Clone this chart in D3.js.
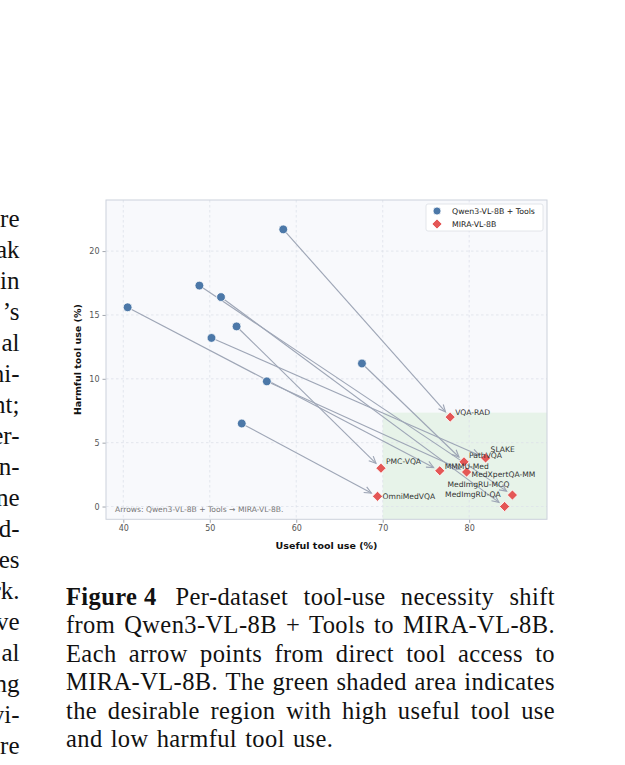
<!DOCTYPE html>
<html><head><meta charset="utf-8">
<script src="https://cdn.jsdelivr.net/npm/d3@7"></script>
<style>body{margin:0;background:#fff} svg{display:block}</style>
</head><body>
<svg id="c" width="625" height="765"></svg>
<script>
// ---------- data ----------
const datasets    = ["VQA-RAD","PathVQA","SLAKE","MMMU-Med","MedXpertQA-MM","PMC-VQA","OmniMedVQA","MedImgRU-MCQ","MedImgRU-QA"];
const toolsUseful  = [58.5, 67.6, 50.2, 40.5, 56.6, 53.1, 53.7, 48.8, 51.3];   // Qwen3-VL-8B + Tools
const toolsHarmful = [21.7, 11.2, 13.2, 15.6,  9.8, 14.1,  6.5, 17.3, 16.4];
const miraUseful   = [77.8, 79.4, 81.9, 76.6, 79.7, 69.8, 69.4, 85.0, 84.1];   // MIRA-VL-8B
const miraHarmful  = [ 7.0,  3.5,  3.8,  2.8,  2.7,  3.0,  0.8,  0.9,  0.0];
const xTicks = [40, 50, 60, 70, 80];
const yTicks = [0, 5, 10, 15, 20];
const xDomain = [38, 89];
const yDomain = [-1, 24];
const desirableUsefulMin = 70;
const desirableHarmfulMax = 7.35;
const seriesNames = ["Qwen3-VL-8B + Tools", "MIRA-VL-8B"];
const noteText = "Arrows: Qwen3-VL-8B + Tools \u2192 MIRA-VL-8B.";
const xLabel = "Useful tool use (%)";
const yLabel = "Harmful tool use (%)";
const captionLines = [
  "Per-dataset tool-use necessity shift",
  "from Qwen3-VL-8B + Tools to MIRA-VL-8B.",
  "Each arrow points from direct tool access to",
  "MIRA-VL-8B. The green shaded area indicates",
  "the desirable region with high useful tool use",
  "and low harmful tool use."
];
const captionLabel = "Figure 4";
const bodyTails = ["re","ak","in","\u2019s","al","ni-","nt;","er-","n-","ne","d-","es","rk.","ve","al","ng","vi-","re"];

// ---------- styling / layout ----------
const labelOffsets = {
  "VQA-RAD":[5,-5,"start"], "PathVQA":[5,-6.5,"start"], "SLAKE":[5,-8,"start"],
  "MMMU-Med":[5,-4.5,"start"], "MedXpertQA-MM":[5,2,"start"], "PMC-VQA":[5,-7,"start"],
  "OmniMedVQA":[5,0,"start"], "MedImgRU-MCQ":[-3,-11,"end"], "MedImgRU-QA":[-4,-12.5,"end"]
};
const BLUE = "#4c78a8", RED = "#e45756", ARROW = "#9ea6b6";
const SANS = "'DejaVu Sans', sans-serif";
const SERIF = "'Liberation Serif', 'Times New Roman', serif";

const svg = d3.select("#c");
const L = 106, R = 547, T = 200, B = 519.3;
const x = d3.scaleLinear().domain(xDomain).range([L, R]);
const y = d3.scaleLinear().domain(yDomain).range([B, T]);

// plot background
svg.append("rect").attr("x", L).attr("y", T).attr("width", R - L).attr("height", B - T).attr("fill", "#f8f9fc");
// desirable region
svg.append("rect")
  .attr("x", x(desirableUsefulMin)).attr("y", y(desirableHarmfulMax))
  .attr("width", x(xDomain[1]) - x(desirableUsefulMin))
  .attr("height", y(yDomain[0]) - y(desirableHarmfulMax))
  .attr("fill", "#e7f3e9");
// grid
const grid = svg.append("g").attr("stroke", "#dde1ea").attr("stroke-width", 0.8).attr("stroke-dasharray", "2.5,2.5");
xTicks.forEach(v => grid.append("line").attr("x1", x(v)).attr("x2", x(v)).attr("y1", T).attr("y2", B));
yTicks.forEach(v => grid.append("line").attr("y1", y(v)).attr("y2", y(v)).attr("x1", L).attr("x2", R));

// axes
const ax = svg.append("g").attr("transform", `translate(0,${B})`)
  .call(d3.axisBottom(x).tickValues(xTicks).tickSize(3.5).tickPadding(3).tickFormat(d3.format("d")));
const ay = svg.append("g").attr("transform", `translate(${L},0)`)
  .call(d3.axisLeft(y).tickValues(yTicks).tickSize(3.5).tickPadding(3).tickFormat(d3.format("d")));
[ax, ay].forEach(g => {
  g.select(".domain").remove();
  g.selectAll(".tick line").attr("stroke", "#8a8f99").attr("stroke-width", 0.8);
  g.selectAll(".tick text").attr("fill", "#555").style("font-family", SANS).style("font-size", "8px");
});
// border
svg.append("rect").attr("x", L).attr("y", T).attr("width", R - L).attr("height", B - T)
  .attr("fill", "none").attr("stroke", "#ccd1db").attr("stroke-width", 1);

// axis labels
svg.append("text").attr("x", (L + R) / 2).attr("y", 545).attr("text-anchor", "middle")
  .attr("dominant-baseline", "central").style("font-family", SANS).style("font-weight", "bold")
  .style("font-size", "9.5px").attr("fill", "#111").text(xLabel);
svg.append("text").attr("transform", `translate(77,${(T + B) / 2}) rotate(-90)`).attr("text-anchor", "middle")
  .attr("dominant-baseline", "central").style("font-family", SANS).style("font-weight", "bold")
  .style("font-size", "9.5px").attr("fill", "#111").text(yLabel);

// arrows
const arrows = svg.append("g").attr("stroke", ARROW).attr("stroke-width", 1.15).attr("fill", "none");
datasets.forEach((d, i) => {
  const sx = x(toolsUseful[i]), sy = y(toolsHarmful[i]);
  const tx = x(miraUseful[i]), ty = y(miraHarmful[i]);
  const dx = tx - sx, dy = ty - sy, len = Math.hypot(dx, dy);
  const ux = dx / len, uy = dy / len, nx = -uy, ny = ux;
  const x0 = sx + ux * 4, y0 = sy + uy * 4;
  const x1 = tx - ux * 7, y1 = ty - uy * 7;
  arrows.append("path").attr("d", `M${x0},${y0}L${x1},${y1}`);
  const hl = 7, hw = 3.2;
  arrows.append("path").attr("d",
    `M${x1 - ux * hl + nx * hw},${y1 - uy * hl + ny * hw}L${x1},${y1}L${x1 - ux * hl - nx * hw},${y1 - uy * hl - ny * hw}`);
});

// markers
svg.append("g").selectAll("circle").data(datasets).join("circle")
  .attr("cx", (d, i) => x(toolsUseful[i])).attr("cy", (d, i) => y(toolsHarmful[i]))
  .attr("r", 4.4).attr("fill", BLUE).attr("stroke", "#fff").attr("stroke-width", 0.8);
const diamond = d3.symbol().type(d3.symbolSquare).size(52);
svg.append("g").selectAll("path").data(datasets).join("path")
  .attr("d", diamond)
  .attr("transform", (d, i) => `translate(${x(miraUseful[i])},${y(miraHarmful[i])}) rotate(45)`)
  .attr("fill", RED).attr("stroke", "#fff").attr("stroke-width", 0.8);

// point labels
svg.append("g").selectAll("text").data(datasets).join("text")
  .attr("x", (d, i) => x(miraUseful[i]) + labelOffsets[d][0])
  .attr("y", (d, i) => y(miraHarmful[i]) + labelOffsets[d][1])
  .attr("text-anchor", d => labelOffsets[d][2])
  .attr("dominant-baseline", "central")
  .style("font-family", SANS).style("font-size", "7.6px").attr("fill", "#333").text(d => d);

// note
svg.append("text").attr("x", 115).attr("y", 509).attr("dominant-baseline", "central")
  .style("font-family", SANS).style("font-size", "7.6px").attr("fill", "#777").text(noteText);

// legend
const lg = svg.append("g");
lg.append("rect").attr("x", 426).attr("y", 204).attr("width", 117).attr("height", 27).attr("rx", 2)
  .attr("fill", "#fff").attr("fill-opacity", 0.9).attr("stroke", "#dcdfe5").attr("stroke-width", 0.8);
lg.append("circle").attr("cx", 437).attr("cy", 211).attr("r", 4).attr("fill", BLUE).attr("stroke", "#fff").attr("stroke-width", 0.8);
lg.append("path").attr("d", diamond).attr("transform", "translate(437,224) rotate(45)").attr("fill", RED)
  .attr("stroke", "#fff").attr("stroke-width", 0.8);
seriesNames.forEach((s, i) => lg.append("text").attr("x", 452).attr("y", 211 + i * 13)
  .attr("dominant-baseline", "central").style("font-family", SANS).style("font-size", "7.8px")
  .attr("fill", "#222").text(s));

// ---------- caption ----------
const capSize = 24.5, capX0 = 66, capX1 = 555;
const capBase = [605, 633, 661.5, 690, 718.5, 747];
const cap = svg.append("g").style("font-family", SERIF).style("font-size", capSize + "px")
  .style("letter-spacing", "0.4px").attr("fill", "#111");
function measure(t, bold) {
  const e = cap.append("text").style("font-weight", bold ? "bold" : "normal").text(t);
  const w = e.node().getComputedTextLength(); e.remove(); return w;
}
captionLines.forEach((line, i) => {
  const words = line.split(" ").map(w => ({t: w}));
  let start = capX0;
  if (i === 0) {
    const w0 = measure(captionLabel, true);
    cap.append("text").attr("x", capX0).attr("y", capBase[i]).style("font-weight", "bold").text(captionLabel);
    start = capX0 + w0 + 19;
  }
  words.forEach(w => w.w = measure(w.t, false));
  const total = d3.sum(words, w => w.w);
  const justify = i < captionLines.length - 1;
  const gap = justify ? (capX1 - start - total) / (words.length - 1) : capSize * 0.33;
  let cx = start;
  words.forEach(w => {
    cap.append("text").attr("x", cx).attr("y", capBase[i]).text(w.t);
    cx += w.w + gap;
  });
});

// body text fragments (left column, cut off at the page edge)
const body = svg.append("g").style("font-family", SERIF).style("font-size", "25px").attr("fill", "#111");
bodyTails.forEach((t, i) => body.append("text").attr("x", 19.5).attr("y", 227 + i * 31)
  .attr("text-anchor", "end").text(t));
</script>
</body></html>
